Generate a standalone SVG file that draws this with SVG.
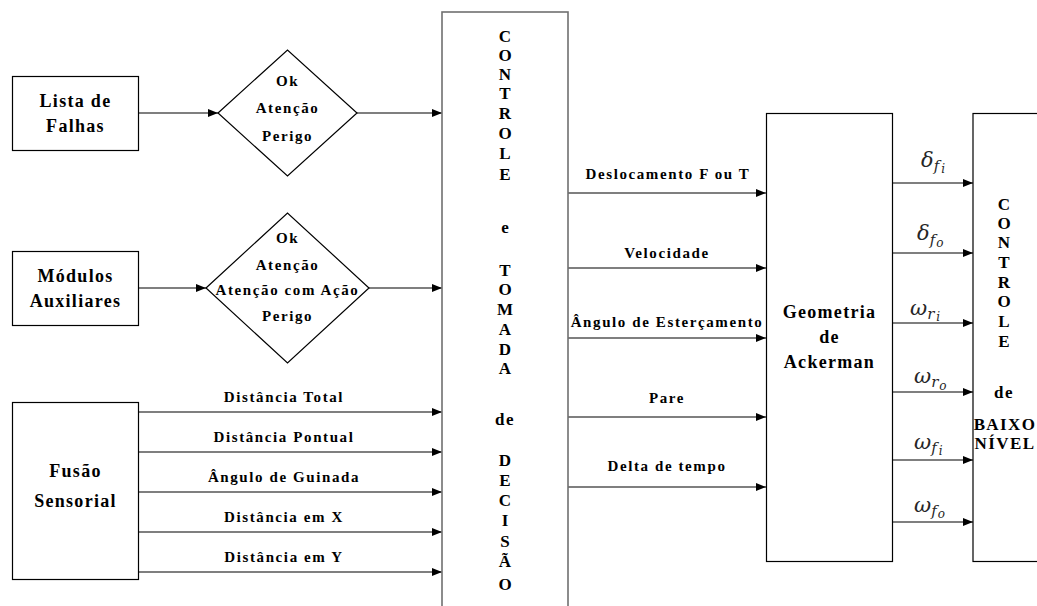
<svg xmlns="http://www.w3.org/2000/svg" width="1037" height="606" viewBox="0 0 1037 606">
  <style>
    .box { fill: #fff; stroke: #000; stroke-width: 1.2; }
    .main { fill: #fff; stroke: #707070; stroke-width: 1.6; }
    .edge { stroke: #000; stroke-width: 1.1; fill: none; marker-end: url(#arrow); }
    .t { font-family: "Liberation Serif", "Times New Roman", serif; font-weight: bold; fill: #000; text-anchor: middle; }
    .big { font-size: 18px; letter-spacing: 1.3px; }
    .sm { font-size: 15px; letter-spacing: 1.6px; }
    .v { font-size: 17px; }
    .m { font-family: "DejaVu Serif", "Liberation Serif", serif; font-style: italic; fill: #262626; font-size: 21px; }
    .s1 { font-size: 15px; }
    .s2 { font-size: 12px; }
  </style>
  <defs>
    <marker id="arrow" viewBox="0 0 10 8" refX="10" refY="4" markerWidth="10" markerHeight="8" markerUnits="userSpaceOnUse" orient="auto">
      <path d="M0,0 L10,4 L0,8 Z" fill="#000"/>
    </marker>
  </defs>
  <rect width="1037" height="606" fill="#fff"/>

  <!-- connectors -->
  <g id="connectors">
    <line class="edge" x1="138" y1="113" x2="218" y2="113"/>
    <line class="edge" x1="357" y1="113" x2="442" y2="113"/>
    <line class="edge" x1="138" y1="288" x2="206" y2="288"/>
    <line class="edge" x1="369" y1="288" x2="442" y2="288"/>
    <line class="edge" x1="138" y1="412" x2="442" y2="412"/>
    <line class="edge" x1="138" y1="452" x2="442" y2="452"/>
    <line class="edge" x1="138" y1="492" x2="442" y2="492"/>
    <line class="edge" x1="138" y1="532" x2="442" y2="532"/>
    <line class="edge" x1="138" y1="572" x2="442" y2="572"/>
    <line class="edge" x1="568" y1="193" x2="766" y2="193"/>
    <line class="edge" x1="568" y1="268" x2="766" y2="268"/>
    <line class="edge" x1="568" y1="338" x2="766" y2="338"/>
    <line class="edge" x1="568" y1="417" x2="766" y2="417"/>
    <line class="edge" x1="568" y1="487" x2="766" y2="487"/>
    <line class="edge" x1="893" y1="183" x2="973" y2="183"/>
    <line class="edge" x1="893" y1="253" x2="973" y2="253"/>
    <line class="edge" x1="893" y1="323" x2="973" y2="323"/>
    <line class="edge" x1="893" y1="392" x2="973" y2="392"/>
    <line class="edge" x1="893" y1="460" x2="973" y2="460"/>
    <line class="edge" x1="893" y1="522" x2="973" y2="522"/>

    <!-- connector labels -->
    <text class="t sm" x="284" y="402">Distância Total</text>
    <text class="t sm" x="284" y="442">Distância Pontual</text>
    <text class="t sm" x="284" y="482">Ângulo de Guinada</text>
    <text class="t sm" x="284" y="522">Distância em X</text>
    <text class="t sm" x="284" y="562">Distância em Y</text>

    <text class="t sm" x="668" y="179">Deslocamento F ou T</text>
    <text class="t sm" x="667" y="258">Velocidade</text>
    <text class="t sm" x="667" y="327">Ângulo de Esterçamento</text>
    <text class="t sm" x="667" y="403">Pare</text>
    <text class="t sm" x="667" y="471">Delta de tempo</text>

    <!-- wheel angle and wheel speed outputs -->
    <text class="m" x="921" y="167">δ<tspan class="s1" dy="4">f</tspan><tspan class="s2" dy="2" dx="2">i</tspan></text>
    <text class="m" x="917" y="240">δ<tspan class="s1" dy="5">f</tspan><tspan class="s2" dy="2" dx="1">o</tspan></text>
    <text class="m" x="910" y="315">ω<tspan class="s1" dy="4">r</tspan><tspan class="s2" dy="2" dx="2">i</tspan></text>
    <text class="m" x="914" y="383">ω<tspan class="s1" dy="4">r</tspan><tspan class="s2" dy="3" dx="1">o</tspan></text>
    <text class="m" x="914" y="449">ω<tspan class="s1" dy="4">f</tspan><tspan class="s2" dy="2" dx="2">i</tspan></text>
    <text class="m" x="914" y="512">ω<tspan class="s1" dy="4">f</tspan><tspan class="s2" dy="2" dx="1">o</tspan></text>
  </g>

  <g id="lista-falhas">
    <rect class="box" x="12.5" y="76.5" width="126" height="74"/>
    <text class="t big" x="75.5" y="107">Lista de</text>
    <text class="t big" x="75.5" y="132">Falhas</text>
  </g>

  <g id="estado-falhas">
    <polygon class="box" points="218,113 287.5,50 357,113 287.5,176"/>
    <text class="t sm" x="287.5" y="86">Ok</text>
    <text class="t sm" x="287.5" y="113">Atenção</text>
    <text class="t sm" x="287.5" y="141">Perigo</text>
  </g>

  <g id="modulos-auxiliares">
    <rect class="box" x="12.5" y="251.5" width="126" height="74"/>
    <text class="t big" x="75.5" y="282">Módulos</text>
    <text class="t big" x="75.5" y="307">Auxiliares</text>
  </g>

  <g id="estado-modulos">
    <polygon class="box" points="206,288 287.5,213 369,288 287.5,363"/>
    <text class="t sm" x="287.5" y="243">Ok</text>
    <text class="t sm" x="287.5" y="270">Atenção</text>
    <text class="t sm" x="287.5" y="295">Atenção com Ação</text>
    <text class="t sm" x="287.5" y="321">Perigo</text>
  </g>

  <g id="fusao-sensorial">
    <rect class="box" x="12.5" y="402.5" width="126" height="177"/>
    <text class="t big" x="75.5" y="477">Fusão</text>
    <text class="t big" x="75.5" y="507">Sensorial</text>
  </g>

  <g id="controle-decisao">
    <rect class="main" x="442" y="12" width="126" height="610"/>
    <g class="t v">
      <text x="505" y="42">C</text>
      <text x="505" y="61">O</text>
      <text x="505" y="80">N</text>
      <text x="505" y="99">T</text>
      <text x="505" y="119">R</text>
      <text x="505" y="139">O</text>
      <text x="505" y="159">L</text>
      <text x="505" y="180">E</text>
      <text x="505" y="233">e</text>
      <text x="505" y="276">T</text>
      <text x="505" y="295">O</text>
      <text x="505" y="315">M</text>
      <text x="505" y="335">A</text>
      <text x="505" y="355">D</text>
      <text x="505" y="374">A</text>
      <text x="505" y="425" letter-spacing="1.5">de</text>
      <text x="505" y="466">D</text>
      <text x="505" y="486">E</text>
      <text x="505" y="506">C</text>
      <text x="505" y="526">I</text>
      <text x="505" y="547">S</text>
      <text x="505" y="567">Ã</text>
      <text x="505" y="590">O</text>
    </g>
  </g>

  <g id="geometria-ackerman">
    <rect class="box" x="766.5" y="113.5" width="126" height="448"/>
    <text class="t big" x="829.5" y="318">Geometria</text>
    <text class="t big" x="829.5" y="343">de</text>
    <text class="t big" x="829.5" y="368">Ackerman</text>
  </g>

  <g id="controle-baixo-nivel">
    <rect class="box" x="973" y="113.5" width="80" height="448"/>
    <g class="t v">
      <text x="1004" y="210">C</text>
      <text x="1004" y="229">O</text>
      <text x="1004" y="248">N</text>
      <text x="1004" y="268">T</text>
      <text x="1004" y="288">R</text>
      <text x="1004" y="307">O</text>
      <text x="1004" y="327">L</text>
      <text x="1004" y="347">E</text>
      <text x="1004" y="398" letter-spacing="1.5">de</text>
      <text x="1005" y="430" letter-spacing="1.4">BAIXO</text>
      <text x="1005" y="449" letter-spacing="1.4">NÍVEL</text>
    </g>
  </g>
</svg>
